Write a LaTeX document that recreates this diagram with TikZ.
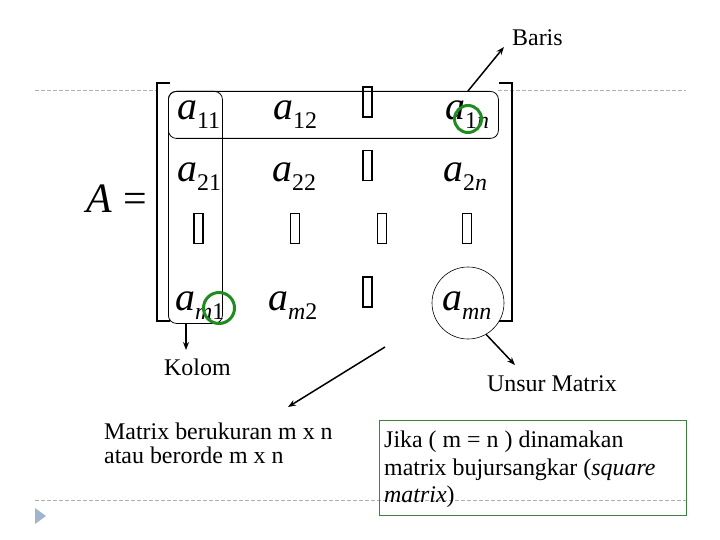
\documentclass[tikz,border=0pt]{standalone}
\usepackage{fontspec}
\setmainfont{Liberation Serif}
\usetikzlibrary{arrows.meta}
\definecolor{ringgreen}{RGB}{30,140,30}
\definecolor{boxgreen}{RGB}{60,130,60}
\definecolor{rulegray}{RGB}{175,175,175}
\definecolor{bulletblue}{RGB}{160,180,205}
\newcommand{\ent}[1]{\textit{a}\raisebox{-9bp}{\fontsize{24}{24}\selectfont #1}}
\tikzset{
  entry/.style={anchor=base west, inner sep=0pt, font=\fontsize{40}{40}\selectfont},
  dotbox/.style={draw, line width=1.4bp, minimum width=9bp, minimum height=30bp, inner sep=0pt},
  txt/.style={anchor=base west, inner sep=0pt, font=\fontsize{24}{28}\selectfont},
  bracket/.style={line width=2bp, line cap=butt},
  groupbox/.style={draw, rounded corners=8bp, line width=0.8bp, anchor=north west, inner sep=0pt},
  ring/.style={draw=ringgreen, line width=3bp, circle, inner sep=0pt},
  pointer/.style={-{Stealth[length=8bp,width=6bp]}, line width=1.5bp},
  sliderule/.style={rulegray, dash pattern=on 4bp off 2bp, line width=0.8bp},
}
\begin{document}
\begin{tikzpicture}[x=1bp,y=-1bp]
\useasboundingbox (0,0) rectangle (720,540);
% slide rules and bullet
\draw[sliderule] (35,90) -- (157,90);
\draw[sliderule] (498,90) -- (686,90);
\draw[sliderule] (35,500) -- (686,500);
\fill[bulletblue] (35,508) -- (46,516) -- (35,524) -- cycle;

% matrix
\node[anchor=base west, inner sep=0pt, font=\fontsize{42}{42}\selectfont] (lhs) at (86,213) {\textit{A}\;=};
\draw[bracket] (170,83) -- (157,83) -- (157,321) -- (170,321);
\draw[bracket] (499,83) -- (512,83) -- (512,321) -- (499,321);

\node[entry] (a11) at (177,120) {\ent{11}};
\node[entry] (a12) at (273,120) {\ent{12}};
\node[dotbox] (d12) at (367.5,102) {};
\node[entry] (a1n) at (445,120) {\ent{1\textit{n}}};

\node[entry] (a21) at (177,182) {\ent{21}};
\node[entry] (a22) at (272,182) {\ent{22}};
\node[dotbox] (d22) at (367.5,165.5) {};
\node[entry] (a2n) at (443,182) {\ent{2\textit{n}}};

\node[dotbox] (d31) at (198.5,228.5) {};
\node[dotbox] (d32) at (295,228.5) {};
\node[dotbox] (d33) at (382,228.5) {};
\node[dotbox] (d34) at (467,228.5) {};

\node[entry] (am1) at (175,310) {\ent{\textit{m}1}};
\node[entry] (am2) at (268,310) {\ent{\textit{m}2}};
\node[dotbox] (d42) at (367.5,292) {};
\node[entry] (amn) at (442,310) {\ent{\textit{mn}}};

% row, column and element marks
\node[groupbox, minimum width=330bp, minimum height=47bp] (rowbox) at (168,91) {};
\node[groupbox, minimum width=54bp, minimum height=232bp] (colbox) at (168,91) {};
\node[draw, circle, line width=0.6bp, minimum size=72bp, inner sep=0pt] (mnring) at (468,303) {};
\node[ring, minimum size=27bp] (ring1n) at (468,119) {};
\node[ring, minimum size=31bp] (ringm1) at (219,308) {};

% labels
\node[txt] (baris) at (512,46) {Baris};
\node[txt] (kolom) at (164,375) {Kolom};
\node[txt] (unsur) at (487,391) {Unsur Matrix};
\node[txt] (orde1) at (104,439) {Matrix berukuran m x n};
\node[txt] (orde2) at (104,463) {atau berorde m x n};
\node[draw=boxgreen, line width=1bp, anchor=north west, minimum width=307bp, minimum height=95bp, inner sep=0pt] (squarebox) at (379,420) {};
\node[txt] (square1) at (384,447) {Jika ( m = n ) dinamakan};
\node[txt] (square2) at (384,475) {matrix bujursangkar (\textit{square}};
\node[txt] (square3) at (384,502) {\textit{matrix})};

% pointers
\coordinate (baristip) at (504,47);
\coordinate (kolomtip) at (186,350);
\coordinate (unsurtip) at (515,365);
\coordinate (ordetail) at (385,347);
\coordinate (ordetip) at (288,407);
\draw[pointer] (ring1n |- rowbox.north) -- (baristip);
\draw[pointer] (kolomtip |- colbox.south) -- (kolomtip);
\draw[pointer] (mnring.-60) -- (unsurtip);
\draw[pointer] (ordetail) -- (ordetip);
\end{tikzpicture}
\end{document}
